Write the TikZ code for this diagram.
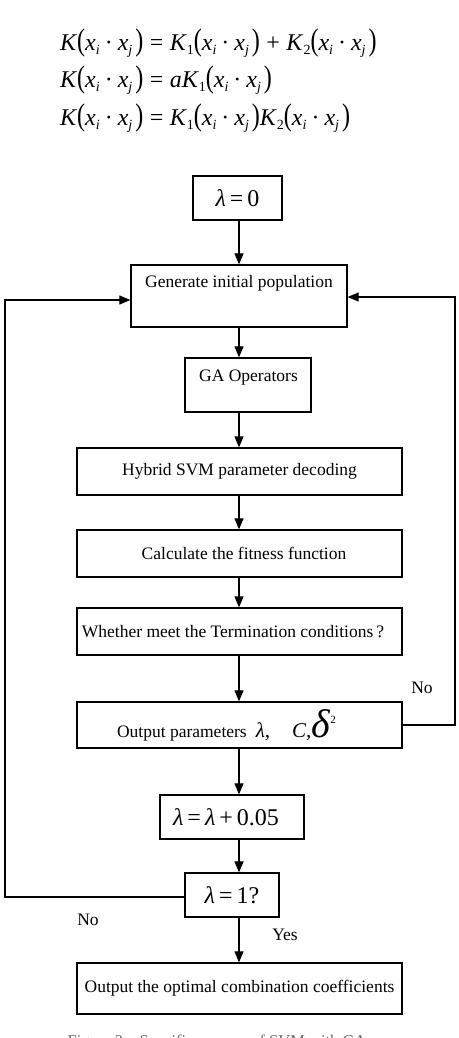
\documentclass[tikz,border=0pt]{standalone}
\usepackage{fontspec}
\setmainfont{Liberation Serif}
\usetikzlibrary{arrows.meta}
\newcommand{\myLP}{\scalebox{1}[1.3]{(}}
\newcommand{\myRP}{\scalebox{1}[1.3]{)}}
\newcommand{\mySub}[1]{\raisebox{-4.5pt}{\fontsize{14}{14}\selectfont #1}}
\newcommand{\myVar}[1]{\textit{x}\mySub{\textit{#1}}}
\newcommand{\myArg}{\myLP\myVar{i}\hspace{5pt}·\hspace{5pt}\myVar{j}\hspace{3pt}\myRP}
\newcommand{\myOp}[1]{\hspace{6.5pt}#1\hspace{6.5pt}}
\newcommand{\myPad}[1]{\hspace{#1}\mbox{}}
\tikzset{
  box/.style={draw, line width=1.3pt, inner sep=0pt, anchor=center, font=\fontsize{17.5}{20}\selectfont},
  flow/.style={line width=1.2pt, -{Triangle[width=9pt,length=11pt]}},
  lbl/.style={font=\fontsize{17.5}{20}\selectfont, inner sep=0pt},
  lamfont/.style={font=\fontsize{24}{26}\selectfont},
  formula/.style={font=\fontsize{24}{26}\selectfont, anchor=west, inner sep=0pt}
}
\begin{document}
\begin{tikzpicture}[x=1pt,y=-1pt]
\useasboundingbox (0,0) rectangle (458,1038);
% formulas
\node[formula] (f1) at (60,43) {\textit{K}\myArg\myOp{=}\textit{K}\mySub{1}\myArg\myOp{+}\textit{K}\mySub{2}\myArg};
\node[formula] (f2) at (60,80) {\textit{K}\myArg\myOp{=}\textit{aK}\mySub{1}\myArg};
\node[formula] (f3) at (60,118) {\textit{K}\myArg\myOp{=}\textit{K}\mySub{1}\myArg\textit{K}\mySub{2}\myArg};
% axis coordinates
\coordinate (ax) at (239,0);
\coordinate (lft) at (5,0);
\coordinate (rgt) at (455,0);
% boxes
\node[box, lamfont, minimum width=89pt, minimum height=44pt] (lam0) at (237.5,198) {\textit{λ}\,=\,0};
\node[box, minimum width=216pt, minimum height=62pt] (gen) at (239,296) {};
\node[lbl] (gentxt) at (239,283) {Generate initial population};
\node[box, minimum width=126pt, minimum height=54pt] (ga) at (248,385) {};
\node[lbl] (gatxt) at (248.5,378) {GA Operators};
\node[box, minimum width=325pt, minimum height=47pt] (hyb) at (239.5,471.5) {Hybrid SVM parameter decoding};
\node[box, minimum width=325pt, minimum height=47pt] (fit) at (239.5,553.5) {\hspace{9pt}Calculate the fitness function};
\node[box, minimum width=325pt, minimum height=47pt] (wh) at (239.5,631.5) {Whether meet the Termination conditions\hspace{3pt}?\myPad{13pt}};
\node[box, minimum width=325pt, minimum height=46pt] (out) at (239.5,725) {Output parameters\hspace{9pt}{\fontsize{21}{22}\selectfont\textit{λ},\hspace{22pt}\textit{C},}{\fontsize{40}{40}\selectfont\textit{δ}}\raisebox{14pt}{\fontsize{11}{11}\selectfont 2}\myPad{26pt}};
\node[box, lamfont, minimum width=144pt, minimum height=44pt] (l05) at (232,817) {\textit{λ}\,=\,\textit{λ}\,+\,0.05\myPad{12pt}};
\node[box, lamfont, minimum width=94pt, minimum height=44pt] (l1) at (232,895) {\textit{λ}\,=\,1?};
\node[box, minimum width=325pt, minimum height=51pt] (fin) at (239.5,988.5) {Output the optimal combination coefficients};
% labels
\node[lbl] (noR) at (422,688) {No};
\node[lbl] (noL) at (88,920) {No};
\node[lbl] (yes) at (285,935) {Yes};
% caption (cut by the page edge, as in the reference)
\node[font=\fontsize{16.5}{18}\selectfont, text=black!60, anchor=base, inner sep=0pt] (cap) at (217,1046) {Figure 2\quad Specific process of SVM with GA};
% connectors
\draw[flow] (lam0.south -| ax) -- (gen.north -| ax);
\draw[flow] (gen.south -| ax) -- (ga.north -| ax);
\draw[flow] (ga.south -| ax) -- (hyb.north -| ax);
\draw[flow] (hyb.south -| ax) -- (fit.north -| ax);
\draw[flow] (fit.south -| ax) -- (wh.north -| ax);
\draw[flow] (wh.south -| ax) -- (out.north -| ax);
\draw[flow] (out.south -| ax) -- (l05.north -| ax);
\draw[flow] (l05.south -| ax) -- (l1.north -| ax);
\draw[flow] (l1.south -| ax) -- (fin.north -| ax);
\coordinate (genL) at ([yshift=-4pt]gen.west);
\coordinate (genR) at ([yshift=-1pt]gen.east);
\coordinate (l1L) at ([yshift=-2pt]l1.west);
\draw[flow] (l1L) -- (l1L -| lft) -- (lft |- genL) -- (genL);
\draw[flow] (out.east) -- (out.east -| rgt) -- (rgt |- genR) -- (genR);
\end{tikzpicture}
\end{document}
